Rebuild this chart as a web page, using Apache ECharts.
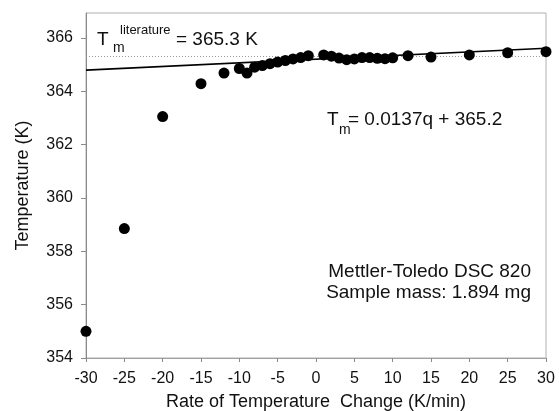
<!DOCTYPE html>
<html>
<head>
<meta charset="utf-8">
<script src="https://cdn.jsdelivr.net/npm/echarts@6/dist/echarts.min.js"></script>
<style>
  html, body { margin: 0; padding: 0; background: #fff; }
  #chart { width: 559px; height: 411px; }
</style>
</head>
<body>
<div id="chart"></div>
<script>
// Heating/cooling rate (K/min) and the measured melting temperature (K)
var rates = [-30, -25, -20, -15, -12, -10, -9, -8, -7, -6, -5, -4, -3, -2, -1,
             1, 2, 3, 4, 5, 6, 7, 8, 9, 10, 12, 15, 20, 25, 30];
var meltTemps = [355.0, 358.85, 363.05, 364.28, 364.68, 364.85, 364.68, 364.9, 364.96, 365.03, 365.09, 365.15, 365.21, 365.26, 365.33,
                 365.36, 365.31, 365.24, 365.18, 365.21, 365.26, 365.26, 365.23, 365.22, 365.25, 365.33, 365.28, 365.36, 365.44, 365.48];

// Linear fit Tm = 0.0137q + 365.2, end points over the rate range
var fitLine = [[-30, 364.79], [30, 365.61]];
// Literature melting point, 365.3 K
var litLine = [[-30, 365.3], [30, 365.3]];

var xTicks = [-30, -25, -20, -15, -10, -5, 0, 5, 10, 15, 20, 25, 30];
var yTicks = [354, 356, 358, 360, 362, 364, 366];

var FONT = '"Liberation Sans", Arial, sans-serif';
var AXIS_GRAY = '#8a8a8a';

var chart = echarts.init(document.getElementById('chart'), null, { renderer: 'canvas' });

chart.setOption({
  animation: false,
  backgroundColor: '#fff',
  textStyle: { fontFamily: FONT },
  grid: {
    left: 86, right: 13, top: 13, bottom: 53,
    containLabel: false,
    outerBoundsMode: 'none',
    show: true, borderColor: '#b0b0b0', borderWidth: 1, backgroundColor: 'transparent'
  },
  xAxis: {
    type: 'value',
    min: xTicks[0], max: xTicks[xTicks.length - 1], interval: 5,
    name: 'Rate of Temperature  Change (K/min)',
    nameLocation: 'middle', nameGap: 35,
    nameTextStyle: { fontSize: 18, color: '#111', fontFamily: FONT },
    axisLine: { show: true, onZero: false, lineStyle: { color: '#a0a0a0', width: 1 } },
    axisTick: { show: true, inside: false, length: 4, lineStyle: { color: AXIS_GRAY } },
    axisLabel: { fontSize: 16, color: '#111', margin: 13, fontFamily: FONT,
                 customValues: xTicks },
    splitLine: { show: false }
  },
  yAxis: {
    type: 'value',
    min: yTicks[0], max: 366.93,
    name: 'Temperature (K)',
    nameLocation: 'middle', nameGap: 54,
    nameTextStyle: { fontSize: 18, color: '#111', fontFamily: FONT },
    axisLine: { show: true, onZero: false, lineStyle: { color: AXIS_GRAY, width: 1 } },
    axisTick: { show: true, inside: false, length: 5, lineStyle: { color: AXIS_GRAY },
                customValues: yTicks },
    axisLabel: { fontSize: 16, color: '#111', margin: 13, fontFamily: FONT,
                 customValues: yTicks },
    splitLine: { show: false }
  },
  series: [
    {
      type: 'line',
      data: litLine,
      symbol: 'none',
      lineStyle: { color: '#9a9a9a', width: 1, type: [1, 2] },
      z: 1
    },
    {
      type: 'line',
      data: fitLine,
      symbol: 'none',
      lineStyle: { color: '#000', width: 1.6 },
      z: 2
    },
    {
      type: 'scatter',
      data: rates.map(function (r, i) { return [r, meltTemps[i]]; }),
      symbol: 'circle',
      symbolSize: 11,
      itemStyle: { color: '#000', opacity: 1 },
      z: 3
    }
  ],
  graphic: [
    // T_m^literature = 365.3 K
    { type: 'text', left: 97, top: 30, style: { text: 'T', font: '19px ' + FONT, fill: '#111' } },
    { type: 'text', left: 113, top: 41, style: { text: 'm', font: '14px ' + FONT, fill: '#111' } },
    { type: 'text', left: 120, top: 24, style: { text: 'literature', font: '13px ' + FONT, fill: '#111' } },
    { type: 'text', left: 176, top: 30, style: { text: '= 365.3 K', font: '19px ' + FONT, fill: '#111' } },
    // fitted equation
    { type: 'text', left: 327, top: 110, style: { text: 'T', font: '19px ' + FONT, fill: '#111' } },
    { type: 'text', left: 339, top: 123, style: { text: 'm', font: '14px ' + FONT, fill: '#111' } },
    { type: 'text', left: 348, top: 110, style: { text: '= 0.0137q + 365.2', font: '19px ' + FONT, fill: '#111' } },
    // instrument and sample
    { type: 'text', right: 28, top: 262, style: { text: 'Mettler-Toledo DSC 820', font: '19px ' + FONT, fill: '#111', textAlign: 'right' } },
    { type: 'text', right: 28, top: 283, style: { text: 'Sample mass: 1.894 mg', font: '19px ' + FONT, fill: '#111', textAlign: 'right' } }
  ]
});
</script>
</body>
</html>
